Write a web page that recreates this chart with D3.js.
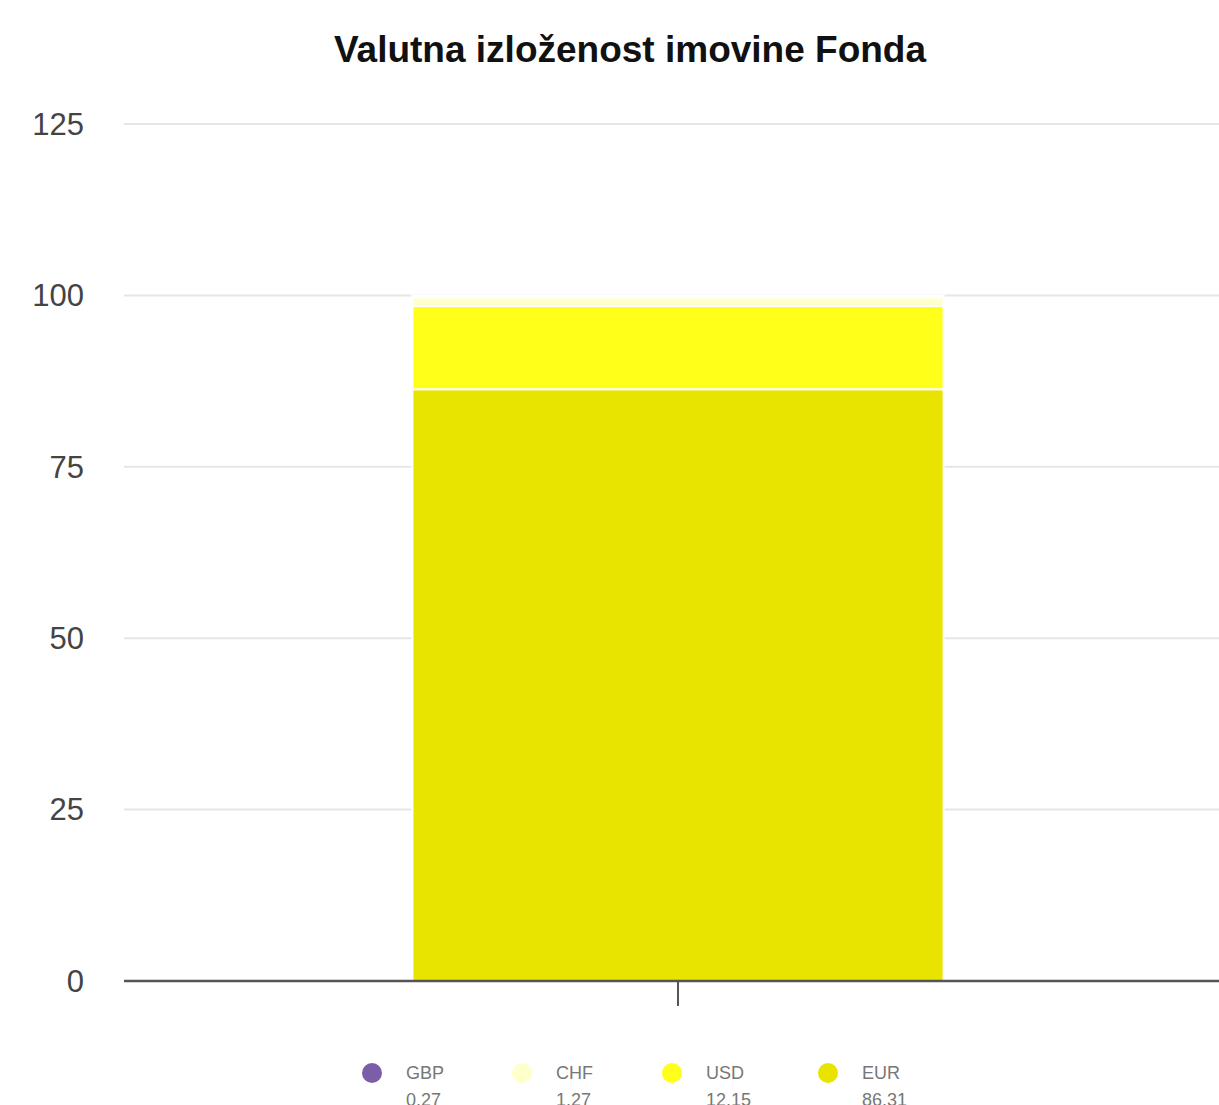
<!DOCTYPE html>
<html>
<head lang="hr">
    <meta charset="UTF-8">
    <title>Valutna izloženost</title>
    <script type="text/javascript" src="https://cdn.jsdelivr.net/npm/d3@7"></script>
    <style>
        body { margin: 0; background: #fff; overflow: hidden; }
        text { font-family: "Liberation Sans", Arial, sans-serif; }
    </style>
</head>
<body>
<svg id="mainSvg"></svg>
<script>
    // data
    var currencies = ["GBP", "CHF", "USD", "EUR"];
    var values = [0.27, 1.27, 12.15, 86.31];
    var colors = ["#7b5ea7", "#ffffcc", "#ffff1a", "#e9e300"];
    var yTicks = [0, 25, 50, 75, 100, 125];
    var category = [""];

    var w = 1219, h = 1105;
    var plotLeft = 124, plotRight = 1232, plotTop = 124, plotBottom = 981;

    var svg = d3.select("#mainSvg").attr("width", w).attr("height", h);

    var y = d3.scaleLinear().domain([0, 125]).range([plotBottom, plotTop]);
    var x = d3.scaleBand().domain(category).range([plotLeft, plotRight]).paddingInner(0).paddingOuter(0.543);

    // grid
    svg.append("g")
            .selectAll("line")
            .data(yTicks.slice(1))
            .enter()
            .append("line")
            .attr("x1", plotLeft).attr("x2", plotRight)
            .attr("y1", function (d) { return y(d); })
            .attr("y2", function (d) { return y(d); })
            .attr("stroke", "#e6e6e6")
            .attr("stroke-width", 2);

    // y labels
    svg.append("g")
            .selectAll("text")
            .data(yTicks)
            .enter()
            .append("text")
            .attr("x", 84)
            .attr("y", function (d) { return y(d); })
            .attr("dy", "0.35em")
            .attr("text-anchor", "end")
            .attr("font-size", 31)
            .attr("fill", "#444")
            .text(function (d) { return d; });

    // stacked bar, EUR at bottom
    var stackOrder = currencies.map(function (c, i) { return i; }).reverse();
    var base = 0, segs = [];
    stackOrder.forEach(function (i) {
        segs.push({name: currencies[i], y0: base, y1: base + values[i], color: colors[i]});
        base += values[i];
    });

    svg.append("g")
            .selectAll("rect")
            .data(segs)
            .enter()
            .append("rect")
            .attr("x", x(""))
            .attr("width", x.bandwidth())
            .attr("y", function (d) { return y(d.y1); })
            .attr("height", function (d) { return y(d.y0) - y(d.y1); })
            .attr("fill", function (d) { return d.color; })
            .attr("stroke", "#fff")
            .attr("stroke-width", 2);

    // x axis
    svg.append("line")
            .attr("x1", plotLeft).attr("x2", plotRight)
            .attr("y1", plotBottom).attr("y2", plotBottom)
            .attr("stroke", "#555").attr("stroke-width", 2.5);
    svg.append("line")
            .attr("x1", x("") + x.bandwidth() / 2).attr("x2", x("") + x.bandwidth() / 2)
            .attr("y1", plotBottom).attr("y2", plotBottom + 25)
            .attr("stroke", "#555").attr("stroke-width", 2);

    // title
    svg.append("text")
            .attr("x", 630).attr("y", 62)
            .attr("text-anchor", "middle")
            .attr("font-size", 37).attr("font-weight", "bold")
            .attr("fill", "#111")
            .text("Valutna izloženost imovine Fonda");

    // legend
    var legendX = [372, 522, 672, 828];
    var item = svg.append("g")
            .selectAll("g")
            .data(currencies)
            .enter()
            .append("g")
            .attr("transform", function (d, i) { return "translate(" + legendX[i] + ",1073)"; });
    item.append("circle").attr("r", 10).attr("fill", function (d, i) { return colors[i]; });
    item.append("text").attr("x", 34).attr("y", 6).attr("font-size", 18).attr("fill", "#777")
            .text(function (d) { return d; });
    item.append("text").attr("x", 34).attr("y", 33).attr("font-size", 18).attr("fill", "#777")
            .text(function (d, i) { return values[i].toFixed(2); });
</script>
</body>
</html>
